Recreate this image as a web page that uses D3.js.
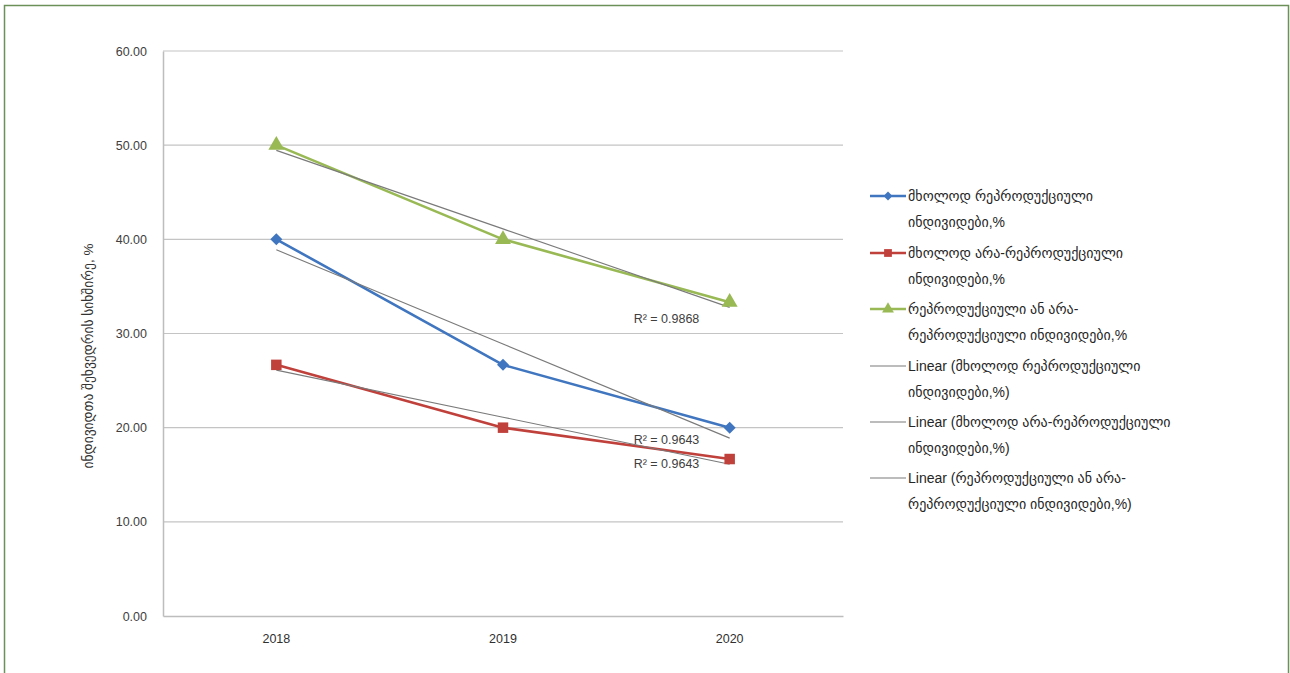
<!DOCTYPE html>
<html>
<head>
<meta charset="utf-8">
<script src="https://cdn.jsdelivr.net/npm/d3@7"></script>
<style>
  html, body { margin: 0; padding: 0; background: #ffffff; }
  svg { display: block; }
  text { font-family: "Liberation Sans", "DejaVu Sans", sans-serif; }
</style>
</head>
<body>
<svg id="chart" width="1290" height="673"></svg>
<script>
// Years on the category axis
const years = ["2018", "2019", "2020"];

// Share of individuals per group, %
const onlyReproductive = [40.00, 26.67, 20.00];
const onlyNonReproductive = [26.67, 20.00, 16.67];
const eitherGroup = [50.00, 40.00, 33.33];

// Y axis tick values
const yTicks = [0, 10, 20, 30, 40, 50, 60];

// Coefficients of determination shown beside the trend lines
const rSquared = ["0.9643", "0.9643", "0.9868"];

// Legend captions (two lines each)
const seriesNames = [
  ["მხოლოდ რეპროდუქციული", "ინდივიდები,%"],
  ["მხოლოდ არა-რეპროდუქციული", "ინდივიდები,%"],
  ["რეპროდუქციული ან არა-", "რეპროდუქციული ინდივიდები,%"]
];
const trendNames = [
  ["Linear (მხოლოდ რეპროდუქციული", "ინდივიდები,%)"],
  ["Linear (მხოლოდ არა-რეპროდუქციული", "ინდივიდები,%)"],
  ["Linear (რეპროდუქციული ან არა-", "რეპროდუქციული ინდივიდები,%)"]
];

const yTitle = "ინდივიდთა შეხვედრის სიხშირე, %";

const series = [
  { values: onlyReproductive, color: "#4076bf", marker: d3.symbolSquare, rotate: 45, size: 72 },
  { values: onlyNonReproductive, color: "#c0403c", marker: d3.symbolSquare, rotate: 0, size: 110 },
  { values: eitherGroup, color: "#98b954", marker: d3.symbolTriangle, rotate: 0, size: 110 }
];

const svg = d3.select("#chart");

// Outer frame
svg.append("path")
  .attr("d", "M4.5,673 L4.5,5.5 L1288.5,5.5 L1288.5,673")
  .attr("fill", "none")
  .attr("stroke", "#6b9058")
  .attr("stroke-width", 1.5);

const plot = { left: 163, right: 843, top: 51, bottom: 616 };

const x = d3.scaleBand().domain(years).range([plot.left, plot.right]);
const xc = d => x(d) + x.bandwidth() / 2;
const y = d3.scaleLinear().domain([0, 60]).range([plot.bottom, plot.top]);

// Horizontal gridlines
svg.append("g")
  .selectAll("line")
  .data(yTicks.filter(t => t > 0))
  .join("line")
  .attr("x1", plot.left).attr("x2", plot.right)
  .attr("y1", d => y(d)).attr("y2", d => y(d))
  .attr("stroke", "#c4c4c4").attr("stroke-width", 1.2);

// Y axis
const yAxis = svg.append("g")
  .attr("transform", `translate(${plot.left},0)`)
  .call(d3.axisLeft(y).tickValues(yTicks).tickFormat(d3.format(".2f")).tickSize(0).tickPadding(16));
yAxis.select(".domain").attr("stroke", "#bdbdbd").attr("stroke-width", 1.5);
yAxis.selectAll("text")
  .attr("font-size", 12.5).attr("fill", "#404040")
  .attr("font-family", "\"Open Sans\", \"Liberation Sans\", sans-serif");

// X axis
const xAxis = svg.append("g")
  .attr("transform", `translate(0,${plot.bottom})`)
  .call(d3.axisBottom(x).tickSize(0).tickPadding(18));
xAxis.select(".domain").attr("stroke", "#bdbdbd").attr("stroke-width", 1.5);
xAxis.selectAll("text")
  .attr("font-size", 12.5).attr("fill", "#303030")
  .attr("font-family", "\"Open Sans\", \"Liberation Sans\", sans-serif");

// Y axis title
svg.append("text")
  .attr("transform", `translate(93,356) rotate(-90)`)
  .attr("text-anchor", "middle")
  .attr("font-family", "\"DejaVu Sans\", sans-serif")
  .attr("font-size", 13.5)
  .attr("fill", "#333")
  .text(yTitle);

// Least-squares linear trend over category positions 1..n
function linearFit(vals) {
  const xs = vals.map((_, i) => i + 1);
  const mx = d3.mean(xs), my = d3.mean(vals);
  const slope = d3.sum(xs, (xi, i) => (xi - mx) * (vals[i] - my)) / d3.sum(xs, xi => (xi - mx) ** 2);
  const intercept = my - slope * mx;
  return xs.map(xi => intercept + slope * xi);
}

const line = d3.line().x((d, i) => xc(years[i])).y(d => y(d));

// Data lines
series.forEach(s => {
  svg.append("path")
    .datum(s.values)
    .attr("d", line)
    .attr("fill", "none")
    .attr("stroke", s.color)
    .attr("stroke-width", 2.6)
    .attr("stroke-linejoin", "round");
});

// Trend lines
series.forEach(s => {
  svg.append("path")
    .datum(linearFit(s.values))
    .attr("d", line)
    .attr("fill", "none")
    .attr("stroke", "#7a7a7a")
    .attr("stroke-width", 1.1);
});

// Markers
series.forEach(s => {
  svg.append("g")
    .selectAll("path")
    .data(s.values)
    .join("path")
    .attr("transform", (d, i) => `translate(${xc(years[i])},${y(d)}) rotate(${s.rotate})`)
    .attr("d", d3.symbol().type(s.marker).size(s.size))
    .attr("fill", s.color);
});

// R² labels near the right end of each trend
series.forEach((s, k) => {
  const last = linearFit(s.values)[s.values.length - 1];
  const yy = k === 2 ? y(last) + 16 : (k === 0 ? y(s.values[2]) + 16 : y(s.values[2]) + 9);
  svg.append("text")
    .attr("x", xc(years[2]) - 96)
    .attr("y", yy)
    .attr("font-size", 12.5)
    .attr("fill", "#404040")
    .attr("font-family", "\"Open Sans\", \"Liberation Sans\", sans-serif")
    .text("R² = " + rSquared[k]);
});

// Legend
const legend = svg.append("g").attr("transform", "translate(870,0)");
const rowTops = [196, 253, 309, 366, 422, 478];
const entries = [
  ...series.map((s, k) => ({ name: seriesNames[k], color: s.color, marker: s.marker, rotate: s.rotate, size: s.size * 0.55, width: 2.6 })),
  ...series.map((s, k) => ({ name: trendNames[k], color: "#7a7a7a", marker: null, width: 1.1 }))
];
entries.forEach((e, i) => {
  const g = legend.append("g").attr("transform", `translate(0,${rowTops[i]})`);
  g.append("line").attr("x1", 0).attr("x2", 36).attr("y1", 0).attr("y2", 0)
    .attr("stroke", e.color).attr("stroke-width", e.width);
  if (e.marker) {
    g.append("path").attr("transform", `translate(18,0) rotate(${e.rotate})`)
      .attr("d", d3.symbol().type(e.marker).size(e.size)).attr("fill", e.color);
  }
  const t = g.append("text").attr("x", 38).attr("y", 5)
    .attr("font-size", 14).attr("fill", "#262626")
    .attr("font-family", "\"Liberation Sans\", \"DejaVu Sans\", sans-serif");
  t.append("tspan").attr("x", 38).attr("dy", 0).text(e.name[0]);
  t.append("tspan").attr("x", 38).attr("dy", 25.5).text(e.name[1]);
});
</script>
</body>
</html>
